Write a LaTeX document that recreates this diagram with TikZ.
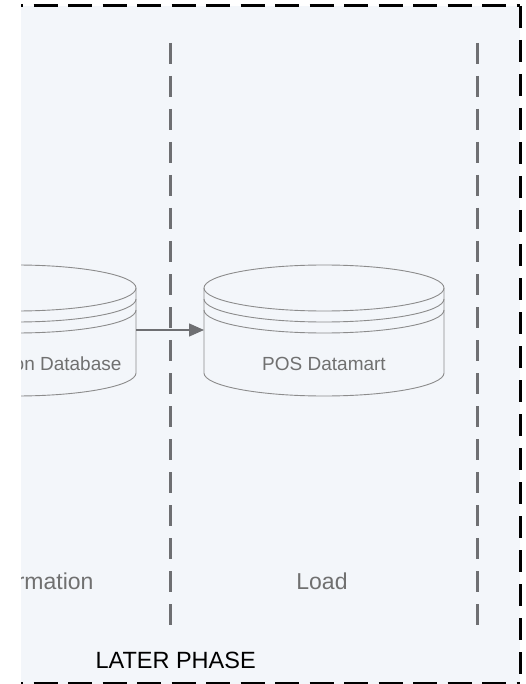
\documentclass[tikz,border=0pt]{standalone}
\usepackage{fontspec}
\setmainfont{Liberation Sans}
\usetikzlibrary{arrows.meta}

\definecolor{phasebg}{HTML}{F3F6FA}
\definecolor{drumline}{HTML}{8C8C8C}
\definecolor{lanegray}{HTML}{6E6F72}
\definecolor{labelgray}{HTML}{707070}

\tikzset{
  frameline/.style={black,line width=3pt,dash pattern=on 24pt off 10.5pt},
  laneline/.style={lanegray,line width=3pt,dash pattern=on 21pt off 12pt},
  drum/.style={drumline,line width=0.9pt},
  drumtext/.style={text=labelgray,font=\fontsize{19}{21}\selectfont},
  lanetext/.style={text=labelgray,font=\fontsize{23}{26}\selectfont},
  flow/.style={lanegray,line width=1.3pt,-{Triangle[length=15pt,width=13pt]}}
}

% drum shaped store: centre x, y of the top rim
\newcommand{\dbdrum}[2]{%
  \draw[drum] (#1,#2) ellipse [x radius=120pt,y radius=23pt];
  \draw[drum] (#1-120,#2+11) arc[start angle=180,end angle=360,x radius=120pt,y radius=23pt];
  \draw[drum] (#1-120,#2+22) arc[start angle=180,end angle=360,x radius=120pt,y radius=23pt];
  \draw[drum] (#1-120,#2) -- (#1-120,#2+85)
    arc[start angle=180,end angle=360,x radius=120pt,y radius=23pt] -- (#1+120,#2);
}

\begin{document}
\begin{tikzpicture}[x=1pt,y=-1pt]
  \useasboundingbox (0,0) rectangle (525,684);
  \fill[phasebg] (21,6) rectangle (520,684);

  % lanes
  \draw[laneline] (170,43) -- (170,627);
  \draw[laneline] (477,43) -- (477,627);

  \begin{scope}
    \clip (21,0) rectangle (525,684);
    \dbdrum{16}{288}
    \node[drumtext,anchor=base east] (transdb) at (125,370) {Transformation Database};
    \node[lanetext,anchor=base east] (translane) at (97,589) {Transformation};
  \end{scope}

  \dbdrum{324}{288}
  \node[drumtext,anchor=base] (posdb) at (324,370) {POS Datamart};
  \node[lanetext,anchor=base] (loadlane) at (322,589) {Load};

  \coordinate (transdb-out) at (136,330);
  \coordinate (posdb-in) at (204,330);
  \draw[flow] (transdb-out) -- (posdb-in);

  % phase frame
  \draw[frameline,dash phase=22pt] (21,6) -- (520,6);
  \draw[frameline,dash pattern=on 22pt off 12pt] (520,6) -- (520,684);
  \draw[frameline,dash phase=22pt] (21,683) -- (520,683);
  \node[anchor=base west,font=\fontsize{23.5}{26}\selectfont] (phase) at (92,668) {LATER PHASE};
\end{tikzpicture}
\end{document}
